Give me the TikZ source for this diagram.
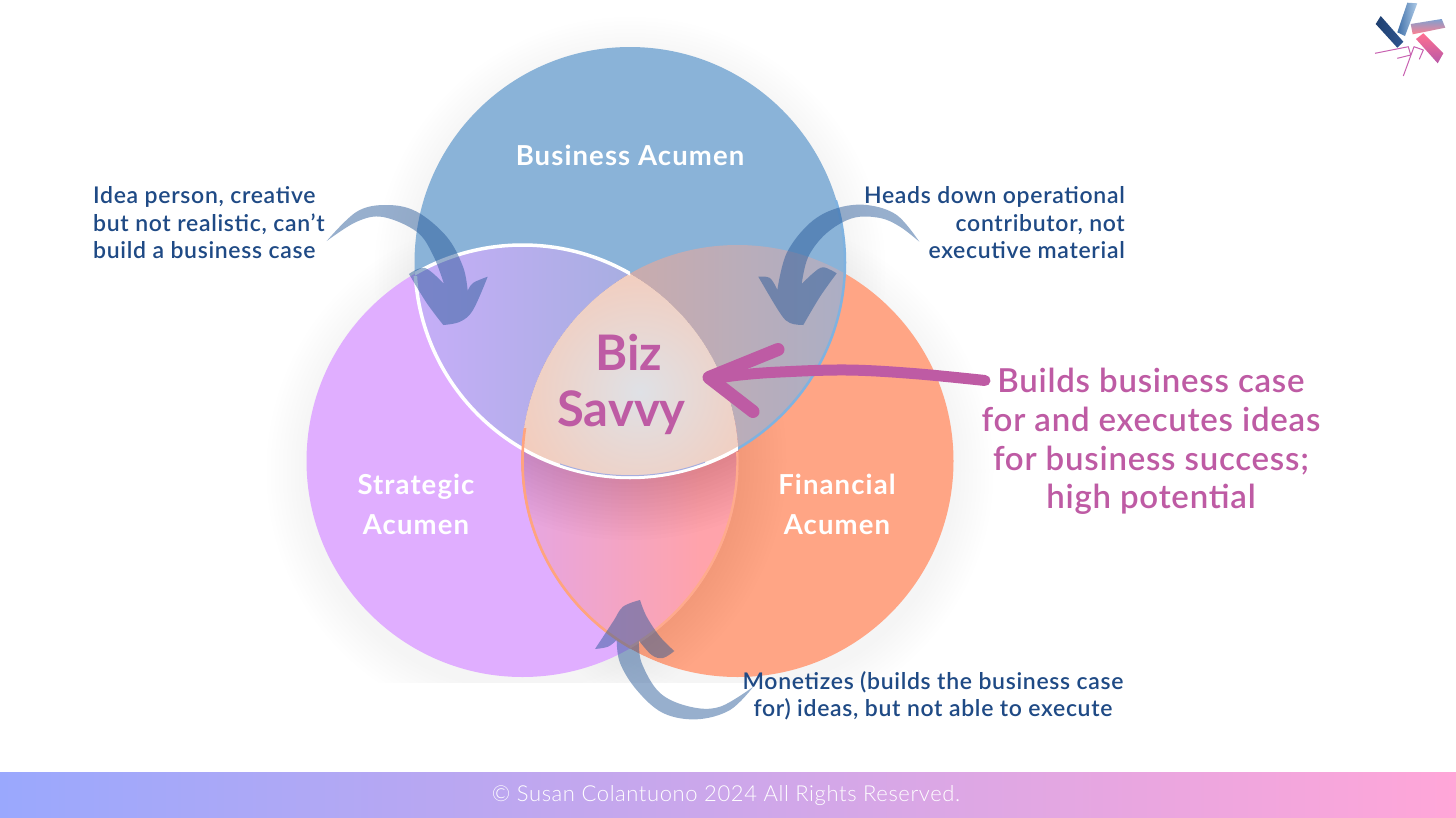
\documentclass[tikz,border=0pt]{standalone}
\usepackage{fontspec}
\setmainfont{Lato Medium}
\newfontfamily\lightfont{Lato Light}[LetterSpace=2.7]
\newfontfamily\semifont{Lato Bold}
\newfontfamily\labelfont{Lato Semibold}[LetterSpace=3]
\newfontfamily\whitefont{Lato Bold}[LetterSpace=4]
\newfontfamily\bigfont{Lato Semibold}[LetterSpace=2.3]
\usetikzlibrary{calc}
\definecolor{cblue}{HTML}{8AB3D8}
\definecolor{cpurple}{HTML}{E0AEFF}
\definecolor{corange}{HTML}{FFA585}
\definecolor{navy}{HTML}{1F4A85}
\definecolor{magenta}{HTML}{BE5BA4}
\definecolor{arrowc}{HTML}{235596}
\definecolor{logoline}{HTML}{C860B0}
\definecolor{pbL}{HTML}{C6AEF8}
\definecolor{pbR}{HTML}{A6AEE0}
\definecolor{obL}{HTML}{D8AAA2}
\definecolor{obR}{HTML}{A2AFCC}
\definecolor{poL}{HTML}{E6A6E2}
\definecolor{poR}{HTML}{FFA3AB}
\definecolor{midI}{HTML}{DFE1E6}
\definecolor{midO}{HTML}{F9C6B0}
\definecolor{lineBlue}{HTML}{7FB2E0}
\definecolor{lineOrA}{HTML}{FFA47E}
\definecolor{lineOrB}{HTML}{FFAA8C}
\definecolor{logoA}{HTML}{1F4070}
\definecolor{logoB}{HTML}{2F5590}
\definecolor{logoC}{HTML}{3F6FA8}
\definecolor{logoD}{HTML}{B0CCE8}
\definecolor{logoE}{HTML}{7FA0D0}
\definecolor{logoF}{HTML}{FF7F90}
\definecolor{logoG}{HTML}{FF7090}
\definecolor{logoH}{HTML}{B858A8}
\definecolor{bandL}{HTML}{9AA8FD}
\definecolor{bandR}{HTML}{FFA6D8}
\newcommand\cB{(630,262.5) circle[radius=215.5]}
\newcommand\cP{(522.5,461) circle[radius=216]}
\newcommand\cO{(737.5,461) circle[radius=216]}
\tikzset{
  navytext/.style={text=navy,font=\labelfont\fontsize{23}{27.5}\selectfont,inner sep=0pt},
  whitetext/.style={text=white,font=\whitefont\fontsize{27.5}{40}\selectfont,inner sep=0pt,align=center},
  pinktext/.style={text=magenta,font=\bigfont\fontsize{33}{38.6}\selectfont,inner sep=0pt,align=center},
  biztext/.style={text=magenta,font=\semifont\fontsize{49}{60}\selectfont,inner sep=0pt},
  curved/.style={fill=arrowc,fill opacity=.47},
  pinkstroke/.style={draw=magenta,line cap=round,line join=round},
  logostroke/.style={draw=logoline,line width=1pt,line join=round},
}
\begin{document}
\begin{tikzpicture}[x=1pt,y=-1pt]
\useasboundingbox (0,0) rectangle (1456,817);
\fill[white] (0,0) rectangle (1456,817);
% soft shadows
\begin{scope}
\clip (0,0) rectangle (1456,682);
\foreach \d in {4,8,...,40}{
  \fill[black,opacity=.004] (630,272.5) circle[radius=215.5+\d];
  \fill[black,opacity=.004] (522.5,471) circle[radius=216+\d];
  \fill[black,opacity=.004] (737.5,471) circle[radius=216+\d];
}
\end{scope}
% base circles
\fill[cpurple] \cP;
\fill[corange] \cO;
\begin{scope}
\clip \cO;
\clip (500,250) rectangle (1000,700);
\foreach \d in {4,8,...,48}{
  \fill[black,opacity=.004] (522.5,461) circle[radius=216+\d];
}
\end{scope}
\fill[cblue] \cB;
% purple + blue
\begin{scope}
\clip \cP; \clip \cB;
\shade[left color=pbL,right color=pbR] (415,240) rectangle (640,480);
\end{scope}
% orange + blue
\begin{scope}
\clip \cO; \clip \cB;
\shade[left color=obL,right color=obR,rotate around={-25:(720,350)}] (600,150) rectangle (840,560);
\end{scope}
% purple + orange
\begin{scope}
\clip \cP; \clip \cO;
\shade[left color=poL,right color=poR] (522,420) rectangle (700,680);
\fill[poR] (700,420) rectangle (760,680);
\foreach \d in {2,6,...,62}{
  \fill[black!70!red,opacity=.008] (630,262.5) circle[radius=215.5+\d];
}
\end{scope}
% centre
\begin{scope}
\clip \cP; \clip \cO; \clip \cB;
\shade[inner color=midI,outer color=midO] (640,392) circle[radius=165];
\end{scope}
% outlines
\begin{scope}
\clip (300,276) rectangle (738,500);
\draw[white,line width=3.5pt] (630,262.5) circle[radius=215];
\end{scope}
\begin{scope}
\clip (410,240) rectangle (630,300);
\clip \cB;
\draw[white,line width=3.5pt] (522.5,461) circle[radius=216];
\end{scope}
\begin{scope}
\clip (560,440) rectangle (705,500);
\draw[pbR,line width=1pt] (630,262.5) circle[radius=213.2];
\end{scope}
\begin{scope}
\clip (738,200) rectangle (860,452);
\draw[lineBlue,line width=2.5pt] (630,262.5) circle[radius=215];
\end{scope}
\begin{scope}
\clip \cP;
\clip (500,428) rectangle (640,680);
\draw[lineOrA,line width=2.6pt] (737.5,461) circle[radius=215];
\end{scope}
\begin{scope}
\clip (630,452) rectangle (760,680);
\clip \cO;
\draw[lineOrB,line width=2.4pt] (522.5,461) circle[radius=215];
\end{scope}
% big curved arrows
\fill[curved] plot[smooth,tension=.6] coordinates {(326.7,241) (356.7,211.7) (386.7,205) (416.7,211.7) (446.7,236.7) (463,266.7) (467.7,291)}
  -- plot[smooth,tension=.6] coordinates {(467.7,291) (473,283) (487.7,276.7)}
  -- plot[smooth,tension=.6] coordinates {(487.7,276.7) (473,310) (460,321.7) (443.3,325)}
  -- plot[smooth,tension=.6] coordinates {(443.3,325) (426.7,303) (409,274)}
  -- plot[smooth,tension=.6] coordinates {(409,274) (425,268) (444,284)}
  -- plot[smooth,tension=.6] coordinates {(444,284) (433,255) (416.7,231.7) (383,217) (356.7,221.7) (326.7,241)} -- cycle;
\fill[curved] plot[smooth,tension=.6] coordinates {(919.3,241.7) (896.7,215) (866.7,205) (836.7,208.3) (810,223) (786.7,253) (777.3,290)}
  -- plot[smooth,tension=.6] coordinates {(777.3,290) (770,278) (758.3,276.7)}
  -- plot[smooth,tension=.6] coordinates {(758.3,276.7) (780,313) (790,323) (803.3,325)}
  -- plot[smooth,tension=.6] coordinates {(803.3,325) (820,296.7) (836.7,273.3)}
  -- plot[smooth,tension=.6] coordinates {(836.7,273.3) (823.3,267.3) (813.3,273) (801.7,284)}
  -- plot[smooth,tension=.6] coordinates {(801.7,284) (808.3,256.7) (826.7,233) (853,218) (880,218) (900,226.7) (919.3,241.7)} -- cycle;
\fill[curved] plot[smooth,tension=.6] coordinates {(753.3,686.7) (730,710) (696.7,719.3) (663,713) (636.7,690) (620,663) (616.7,640)}
  -- plot[smooth,tension=.6] coordinates {(616.7,640) (608,646.7) (595,649)}
  -- plot[smooth,tension=.6] coordinates {(595,649) (613,621.7) (623,606.7) (640,600)}
  -- plot[smooth,tension=.6] coordinates {(640,600) (646.7,616.7) (660,636.7) (674.3,651)}
  -- plot[smooth,tension=.6] coordinates {(674.3,651) (663,658) (651.7,655) (639,640.7)}
  -- plot[smooth,tension=.6] coordinates {(639,640.7) (641.7,663) (660,693) (690,706.7) (720,706.7) (753.3,686.7)} -- cycle;
% magenta arrow
\draw[pinkstroke,line width=11pt] plot[smooth,tension=.6] coordinates {(985,380.5) (913,373.5) (847,370) (780,372) (740,375) (712,379)};
\draw[pinkstroke,line width=13pt] (778,349.5) -- (709,377.5) -- (753,411.5);
% logo
\shade[left color=logoA,right color=logoB] (1380.7,16) -- (1403.3,41.7) -- (1397.3,47.7) -- (1375.7,24) -- cycle;
\shade[left color=logoC,right color=logoD] (1407.3,2.7) -- (1417.3,3.3) -- (1405,36) -- (1397.3,32.3) -- cycle;
\shade[top color=logoE,bottom color=logoF] (1410.7,24) -- (1441.7,19) -- (1445.3,27.7) -- (1412.7,34.3) -- cycle;
\shade[top color=logoG,bottom color=logoH] (1423.3,33.3) -- (1443.3,53.3) -- (1437.7,63.3) -- (1416,39) -- cycle;
\draw[logostroke] (1375,53.3) -- (1408.3,46.7) -- (1410.7,55);
\draw[logostroke] (1397.3,58.3) -- (1410.7,55);
\draw[logostroke] (1403.3,76) -- (1414,46.7) -- (1423.3,50) -- (1419.3,59.3);
% footer band
\shade[left color=bandL,right color=bandR] (0,772) rectangle (1456,817);
% labels
\node[whitetext] (business) at (630,155) {Business Acumen};
\node[whitetext] (strategic) at (416,504) {Strategic\\Acumen};
\node[whitetext] (financial) at (837,504) {Financial\\Acumen};
\node[biztext] (biz) at (629,352) {Biz};
\node[biztext] (savvy) at (621.5,413) {Savvy};
\node[navytext,align=left,anchor=west] (idea) at (93,223) {Idea person, creative\\but not realistic, can’t\\build a business case};
\node[navytext,align=right,anchor=east] (heads) at (1125,223) {Heads down operational\\contributor, not\\executive material};
\node[navytext,align=center] (monetizes) at (933,696) {Monetizes (builds the business case\\for) ideas, but not able to execute};
\node[pinktext] (builds) at (1151,441.5) {Builds business case\\for and executes ideas\\for business success;\\high potential};
\node[text=white,font=\lightfont\fontsize{22}{26}\selectfont,inner sep=0pt] (copy) at (726,796) {© Susan Colantuono 2024 All Rights Reserved.};
\end{tikzpicture}
\end{document}
